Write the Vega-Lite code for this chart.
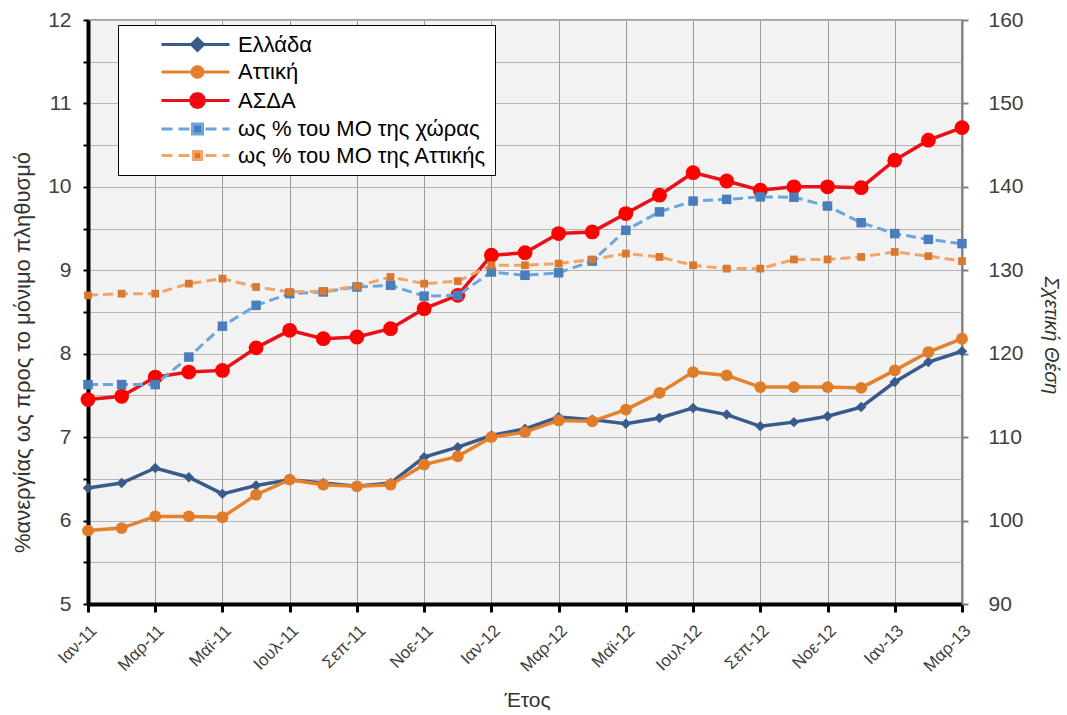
{
  "$schema": "https://vega.github.io/schema/vega-lite/v6.json",
  "width": 874,
  "height": 584,
  "autosize": {"type": "none"},
  "padding": {"left": 88, "top": 20, "right": 105, "bottom": 111},
  "background": "white",
  "config": {
    "font": "Liberation Sans",
    "view": {"fill": "#F2F2F2", "stroke": "#808080", "strokeWidth": 1.5}
  },
  "data": {
    "values": [
      {"month": "Ιαν-11", "series": "Ελλάδα", "value": 6.39},
      {"month": "Φεβ-11", "series": "Ελλάδα", "value": 6.45},
      {"month": "Μαρ-11", "series": "Ελλάδα", "value": 6.63},
      {"month": "Απρ-11", "series": "Ελλάδα", "value": 6.52},
      {"month": "Μαϊ-11", "series": "Ελλάδα", "value": 6.32},
      {"month": "Ιουν-11", "series": "Ελλάδα", "value": 6.42},
      {"month": "Ιουλ-11", "series": "Ελλάδα", "value": 6.49},
      {"month": "Αυγ-11", "series": "Ελλάδα", "value": 6.45},
      {"month": "Σεπ-11", "series": "Ελλάδα", "value": 6.41},
      {"month": "Οκτ-11", "series": "Ελλάδα", "value": 6.45},
      {"month": "Νοε-11", "series": "Ελλάδα", "value": 6.76},
      {"month": "Δεκ-11", "series": "Ελλάδα", "value": 6.88},
      {"month": "Ιαν-12", "series": "Ελλάδα", "value": 7.02},
      {"month": "Φεβ-12", "series": "Ελλάδα", "value": 7.1},
      {"month": "Μαρ-12", "series": "Ελλάδα", "value": 7.24},
      {"month": "Απρ-12", "series": "Ελλάδα", "value": 7.21},
      {"month": "Μαϊ-12", "series": "Ελλάδα", "value": 7.16},
      {"month": "Ιουν-12", "series": "Ελλάδα", "value": 7.23},
      {"month": "Ιουλ-12", "series": "Ελλάδα", "value": 7.35},
      {"month": "Αυγ-12", "series": "Ελλάδα", "value": 7.27},
      {"month": "Σεπ-12", "series": "Ελλάδα", "value": 7.13},
      {"month": "Οκτ-12", "series": "Ελλάδα", "value": 7.18},
      {"month": "Νοε-12", "series": "Ελλάδα", "value": 7.25},
      {"month": "Δεκ-12", "series": "Ελλάδα", "value": 7.36},
      {"month": "Ιαν-13", "series": "Ελλάδα", "value": 7.66},
      {"month": "Φεβ-13", "series": "Ελλάδα", "value": 7.9},
      {"month": "Μαρ-13", "series": "Ελλάδα", "value": 8.03},

      {"month": "Ιαν-11", "series": "Αττική", "value": 5.88},
      {"month": "Φεβ-11", "series": "Αττική", "value": 5.91},
      {"month": "Μαρ-11", "series": "Αττική", "value": 6.05},
      {"month": "Απρ-11", "series": "Αττική", "value": 6.05},
      {"month": "Μαϊ-11", "series": "Αττική", "value": 6.04},
      {"month": "Ιουν-11", "series": "Αττική", "value": 6.31},
      {"month": "Ιουλ-11", "series": "Αττική", "value": 6.49},
      {"month": "Αυγ-11", "series": "Αττική", "value": 6.43},
      {"month": "Σεπ-11", "series": "Αττική", "value": 6.41},
      {"month": "Οκτ-11", "series": "Αττική", "value": 6.43},
      {"month": "Νοε-11", "series": "Αττική", "value": 6.67},
      {"month": "Δεκ-11", "series": "Αττική", "value": 6.77},
      {"month": "Ιαν-12", "series": "Αττική", "value": 7.0},
      {"month": "Φεβ-12", "series": "Αττική", "value": 7.06},
      {"month": "Μαρ-12", "series": "Αττική", "value": 7.2},
      {"month": "Απρ-12", "series": "Αττική", "value": 7.19},
      {"month": "Μαϊ-12", "series": "Αττική", "value": 7.33},
      {"month": "Ιουν-12", "series": "Αττική", "value": 7.53},
      {"month": "Ιουλ-12", "series": "Αττική", "value": 7.78},
      {"month": "Αυγ-12", "series": "Αττική", "value": 7.74},
      {"month": "Σεπ-12", "series": "Αττική", "value": 7.6},
      {"month": "Οκτ-12", "series": "Αττική", "value": 7.6},
      {"month": "Νοε-12", "series": "Αττική", "value": 7.6},
      {"month": "Δεκ-12", "series": "Αττική", "value": 7.59},
      {"month": "Ιαν-13", "series": "Αττική", "value": 7.8},
      {"month": "Φεβ-13", "series": "Αττική", "value": 8.02},
      {"month": "Μαρ-13", "series": "Αττική", "value": 8.18},

      {"month": "Ιαν-11", "series": "ΑΣΔΑ", "value": 7.45},
      {"month": "Φεβ-11", "series": "ΑΣΔΑ", "value": 7.49},
      {"month": "Μαρ-11", "series": "ΑΣΔΑ", "value": 7.72},
      {"month": "Απρ-11", "series": "ΑΣΔΑ", "value": 7.78},
      {"month": "Μαϊ-11", "series": "ΑΣΔΑ", "value": 7.8},
      {"month": "Ιουν-11", "series": "ΑΣΔΑ", "value": 8.07},
      {"month": "Ιουλ-11", "series": "ΑΣΔΑ", "value": 8.28},
      {"month": "Αυγ-11", "series": "ΑΣΔΑ", "value": 8.18},
      {"month": "Σεπ-11", "series": "ΑΣΔΑ", "value": 8.2},
      {"month": "Οκτ-11", "series": "ΑΣΔΑ", "value": 8.3},
      {"month": "Νοε-11", "series": "ΑΣΔΑ", "value": 8.54},
      {"month": "Δεκ-11", "series": "ΑΣΔΑ", "value": 8.7},
      {"month": "Ιαν-12", "series": "ΑΣΔΑ", "value": 9.18},
      {"month": "Φεβ-12", "series": "ΑΣΔΑ", "value": 9.21},
      {"month": "Μαρ-12", "series": "ΑΣΔΑ", "value": 9.44},
      {"month": "Απρ-12", "series": "ΑΣΔΑ", "value": 9.46},
      {"month": "Μαϊ-12", "series": "ΑΣΔΑ", "value": 9.68},
      {"month": "Ιουν-12", "series": "ΑΣΔΑ", "value": 9.9},
      {"month": "Ιουλ-12", "series": "ΑΣΔΑ", "value": 10.17},
      {"month": "Αυγ-12", "series": "ΑΣΔΑ", "value": 10.07},
      {"month": "Σεπ-12", "series": "ΑΣΔΑ", "value": 9.96},
      {"month": "Οκτ-12", "series": "ΑΣΔΑ", "value": 10.0},
      {"month": "Νοε-12", "series": "ΑΣΔΑ", "value": 10.0},
      {"month": "Δεκ-12", "series": "ΑΣΔΑ", "value": 9.99},
      {"month": "Ιαν-13", "series": "ΑΣΔΑ", "value": 10.32},
      {"month": "Φεβ-13", "series": "ΑΣΔΑ", "value": 10.56},
      {"month": "Μαρ-13", "series": "ΑΣΔΑ", "value": 10.71},

      {"month": "Ιαν-11", "series": "ως % του ΜΟ της χώρας", "value": 116.3},
      {"month": "Φεβ-11", "series": "ως % του ΜΟ της χώρας", "value": 116.3},
      {"month": "Μαρ-11", "series": "ως % του ΜΟ της χώρας", "value": 116.3},
      {"month": "Απρ-11", "series": "ως % του ΜΟ της χώρας", "value": 119.6},
      {"month": "Μαϊ-11", "series": "ως % του ΜΟ της χώρας", "value": 123.3},
      {"month": "Ιουν-11", "series": "ως % του ΜΟ της χώρας", "value": 125.8},
      {"month": "Ιουλ-11", "series": "ως % του ΜΟ της χώρας", "value": 127.2},
      {"month": "Αυγ-11", "series": "ως % του ΜΟ της χώρας", "value": 127.4},
      {"month": "Σεπ-11", "series": "ως % του ΜΟ της χώρας", "value": 128.0},
      {"month": "Οκτ-11", "series": "ως % του ΜΟ της χώρας", "value": 128.2},
      {"month": "Νοε-11", "series": "ως % του ΜΟ της χώρας", "value": 126.9},
      {"month": "Δεκ-11", "series": "ως % του ΜΟ της χώρας", "value": 127.0},
      {"month": "Ιαν-12", "series": "ως % του ΜΟ της χώρας", "value": 129.8},
      {"month": "Φεβ-12", "series": "ως % του ΜΟ της χώρας", "value": 129.4},
      {"month": "Μαρ-12", "series": "ως % του ΜΟ της χώρας", "value": 129.7},
      {"month": "Απρ-12", "series": "ως % του ΜΟ της χώρας", "value": 131.1},
      {"month": "Μαϊ-12", "series": "ως % του ΜΟ της χώρας", "value": 134.8},
      {"month": "Ιουν-12", "series": "ως % του ΜΟ της χώρας", "value": 137.0},
      {"month": "Ιουλ-12", "series": "ως % του ΜΟ της χώρας", "value": 138.3},
      {"month": "Αυγ-12", "series": "ως % του ΜΟ της χώρας", "value": 138.5},
      {"month": "Σεπ-12", "series": "ως % του ΜΟ της χώρας", "value": 138.8},
      {"month": "Οκτ-12", "series": "ως % του ΜΟ της χώρας", "value": 138.75},
      {"month": "Νοε-12", "series": "ως % του ΜΟ της χώρας", "value": 137.7},
      {"month": "Δεκ-12", "series": "ως % του ΜΟ της χώρας", "value": 135.7},
      {"month": "Ιαν-13", "series": "ως % του ΜΟ της χώρας", "value": 134.4},
      {"month": "Φεβ-13", "series": "ως % του ΜΟ της χώρας", "value": 133.7},
      {"month": "Μαρ-13", "series": "ως % του ΜΟ της χώρας", "value": 133.2},

      {"month": "Ιαν-11", "series": "ως % του ΜΟ της Αττικής", "value": 127.0},
      {"month": "Φεβ-11", "series": "ως % του ΜΟ της Αττικής", "value": 127.2},
      {"month": "Μαρ-11", "series": "ως % του ΜΟ της Αττικής", "value": 127.2},
      {"month": "Απρ-11", "series": "ως % του ΜΟ της Αττικής", "value": 128.4},
      {"month": "Μαϊ-11", "series": "ως % του ΜΟ της Αττικής", "value": 129.0},
      {"month": "Ιουν-11", "series": "ως % του ΜΟ της Αττικής", "value": 128.0},
      {"month": "Ιουλ-11", "series": "ως % του ΜΟ της Αττικής", "value": 127.4},
      {"month": "Αυγ-11", "series": "ως % του ΜΟ της Αττικής", "value": 127.5},
      {"month": "Σεπ-11", "series": "ως % του ΜΟ της Αττικής", "value": 128.1},
      {"month": "Οκτ-11", "series": "ως % του ΜΟ της Αττικής", "value": 129.2},
      {"month": "Νοε-11", "series": "ως % του ΜΟ της Αττικής", "value": 128.4},
      {"month": "Δεκ-11", "series": "ως % του ΜΟ της Αττικής", "value": 128.7},
      {"month": "Ιαν-12", "series": "ως % του ΜΟ της Αττικής", "value": 130.6},
      {"month": "Φεβ-12", "series": "ως % του ΜΟ της Αττικής", "value": 130.6},
      {"month": "Μαρ-12", "series": "ως % του ΜΟ της Αττικής", "value": 130.8},
      {"month": "Απρ-12", "series": "ως % του ΜΟ της Αττικής", "value": 131.3},
      {"month": "Μαϊ-12", "series": "ως % του ΜΟ της Αττικής", "value": 132.0},
      {"month": "Ιουν-12", "series": "ως % του ΜΟ της Αττικής", "value": 131.6},
      {"month": "Ιουλ-12", "series": "ως % του ΜΟ της Αττικής", "value": 130.6},
      {"month": "Αυγ-12", "series": "ως % του ΜΟ της Αττικής", "value": 130.2},
      {"month": "Σεπ-12", "series": "ως % του ΜΟ της Αττικής", "value": 130.2},
      {"month": "Οκτ-12", "series": "ως % του ΜΟ της Αττικής", "value": 131.3},
      {"month": "Νοε-12", "series": "ως % του ΜΟ της Αττικής", "value": 131.3},
      {"month": "Δεκ-12", "series": "ως % του ΜΟ της Αττικής", "value": 131.6},
      {"month": "Ιαν-13", "series": "ως % του ΜΟ της Αττικής", "value": 132.2},
      {"month": "Φεβ-13", "series": "ως % του ΜΟ της Αττικής", "value": 131.7},
      {"month": "Μαρ-13", "series": "ως % του ΜΟ της Αττικής", "value": 131.1}
    ]
  },
  "encoding": {
    "x": {
      "field": "month",
      "type": "ordinal",
      "sort": null,
      "scale": {
        "type": "point",
        "padding": 0,
        "domain": ["Ιαν-11","Φεβ-11","Μαρ-11","Απρ-11","Μαϊ-11","Ιουν-11","Ιουλ-11","Αυγ-11","Σεπ-11","Οκτ-11","Νοε-11","Δεκ-11","Ιαν-12","Φεβ-12","Μαρ-12","Απρ-12","Μαϊ-12","Ιουν-12","Ιουλ-12","Αυγ-12","Σεπ-12","Οκτ-12","Νοε-12","Δεκ-12","Ιαν-13","Φεβ-13","Μαρ-13"]
      },
      "axis": {
        "title": "Έτος",
        "values": ["Ιαν-11","Μαρ-11","Μαϊ-11","Ιουλ-11","Σεπ-11","Νοε-11","Ιαν-12","Μαρ-12","Μαϊ-12","Ιουλ-12","Σεπ-12","Νοε-12","Ιαν-13","Μαρ-13"],
        "labelAngle": -45,
        "labelFontSize": 17,
        "labelColor": "#404040",
        "labelPadding": 10,
        "domainColor": "black",
        "domainWidth": 4,
        "tickColor": "black",
        "tickWidth": 3,
        "tickSize": 8,
        "grid": true,
        "gridColor": "#9A9A9A",
        "gridWidth": 1,
        "titleFontSize": 21,
        "titleFontWeight": "normal",
        "titleColor": "#333333",
        "titleX": 439,
        "titleY": 96,
        "titleAlign": "center",
        "titleBaseline": "middle"
      }
    }
  },
  "layer": [
    {
      "transform": [{"filter": {"field": "series", "oneOf": ["Ελλάδα", "Αττική", "ΑΣΔΑ"]}}],
      "encoding": {
        "y": {
          "field": "value",
          "type": "quantitative",
          "scale": {"domain": [5, 12], "nice": false, "zero": false},
          "axis": {
            "title": "%ανεργίας ως προς το μόνιμο πληθυσμό",
            "orient": "left",
            "values": [5, 5.5, 6, 6.5, 7, 7.5, 8, 8.5, 9, 9.5, 10, 10.5, 11, 11.5, 12],
            "labelExpr": "datum.value % 1 === 0 ? format(datum.value, 'd') : ''",
            "labelFontSize": 21,
            "labelColor": "#404040",
            "labelPadding": 12,
            "tickSize": 5,
            "tickColor": "black",
            "tickWidth": 2,
            "domainColor": "black",
            "domainWidth": 4,
            "grid": true,
            "gridColor": "#B4B4B4",
            "gridWidth": 1,
            "titleFontSize": 22,
            "titleFontWeight": "normal",
            "titleColor": "#333333",
            "titleX": -66,
            "titleY": 332,
            "titleAngle": 270,
            "titleAlign": "center",
            "titleBaseline": "middle"
          }
        }
      },
      "layer": [
        {
          "mark": {"type": "line", "strokeWidth": 3.5},
          "encoding": {
            "color": {
              "field": "series",
              "type": "nominal",
              "scale": {
                "domain": ["Ελλάδα", "Αττική", "ΑΣΔΑ", "ως % του ΜΟ της χώρας", "ως % του ΜΟ της Αττικής"],
                "range": ["#3A5A8C", "#E3812D", "#E8111A", "#6AA6DC", "#F2A468"]
              },
              "legend": {
                "title": null,
                "orient": "none",
                "legendX": 30,
                "legendY": 5,
                "direction": "vertical",
                "padding": 8,
                "fillColor": "white",
                "strokeColor": "black",
                "symbolSize": 400,
                "symbolStrokeWidth": 3,
                "symbolOpacity": 1,
                "labelOffset": 89,
                "labelFontSize": 22,
                "labelColor": "black",
                "labelLimit": 400,
                "rowPadding": 3.5
              }
            }
          }
        },
        {
          "transform": [{"filter": "false"}],
          "mark": {"type": "point", "filled": true},
          "encoding": {
            "fill": {
              "field": "series",
              "type": "nominal",
              "scale": {
                "domain": ["Ελλάδα", "Αττική", "ΑΣΔΑ", "ως % του ΜΟ της χώρας", "ως % του ΜΟ της Αττικής"],
                "range": ["#3A5A8C", "#E07B2A", "#FF0000", "#4A7EBB", "#D9782E"]
              },
              "legend": null
            },
            "shape": {
              "field": "series",
              "type": "nominal",
              "scale": {
                "domain": ["Ελλάδα", "Αττική", "ΑΣΔΑ", "ως % του ΜΟ της χώρας", "ως % του ΜΟ της Αττικής"],
                "range": [
                  "M2.4,0H9.2M6,-0.6L6.6,0L6,0.6L5.4,0Z",
                  "M2.4,0H9.2M6.55,0L6.476,0.275L6.275,0.476L6,0.55L5.725,0.476L5.524,0.275L5.45,0L5.524,-0.275L5.725,-0.476L6,-0.55L6.275,-0.476L6.476,-0.275Z",
                  "M2.4,0H9.2M6.7,0L6.606,0.35L6.35,0.606L6,0.7L5.65,0.606L5.394,0.35L5.3,0L5.394,-0.35L5.65,-0.606L6,-0.7L6.35,-0.606L6.606,-0.35Z",
                  "M2.4,0H3.5M4.1,0H5.2M6.8,0H7.9M8.5,0H9.2M5.5,-0.5H6.5V0.5H5.5Z",
                  "M2.4,0H3.5M4.1,0H5.2M6.8,0H7.9M8.5,0H9.2M5.6,-0.4H6.4V0.4H5.6Z"
                ]
              },
              "legend": null
            }
          }
        },
        {
          "transform": [{"filter": {"field": "series", "equal": "Ελλάδα"}}],
          "mark": {"type": "point", "filled": true, "shape": "diamond", "size": 110, "color": "#3A5A8C", "opacity": 1}
        },
        {
          "transform": [{"filter": {"field": "series", "equal": "Αττική"}}],
          "mark": {"type": "point", "filled": true, "shape": "circle", "size": 140, "color": "#E07B2A", "opacity": 1}
        },
        {
          "transform": [{"filter": {"field": "series", "equal": "ΑΣΔΑ"}}],
          "mark": {"type": "point", "filled": true, "shape": "circle", "size": 220, "color": "#FF0000", "opacity": 1}
        }
      ]
    },
    {
      "transform": [{"filter": {"field": "series", "oneOf": ["ως % του ΜΟ της χώρας", "ως % του ΜΟ της Αττικής"]}}],
      "encoding": {
        "y": {
          "field": "value",
          "type": "quantitative",
          "scale": {"domain": [90, 160], "nice": false, "zero": false},
          "axis": {
            "title": "Σχετική Θέση",
            "orient": "right",
            "values": [90, 100, 110, 120, 130, 140, 150, 160],
            "grid": false,
            "labelFontSize": 21,
            "labelColor": "#404040",
            "labelPadding": 20,
            "tickSize": 6,
            "tickColor": "#808080",
            "tickWidth": 2,
            "domainColor": "#808080",
            "domainWidth": 2,
            "titleFontSize": 20,
            "titleFontStyle": "italic",
            "titleFontWeight": "normal",
            "titleColor": "#333333",
            "titleX": 88,
            "titleY": 315,
            "titleAngle": 90,
            "titleAlign": "center",
            "titleBaseline": "middle"
          }
        }
      },
      "layer": [
        {
          "mark": {"type": "line", "strokeWidth": 3, "strokeDash": [10, 5]},
          "encoding": {
            "color": {
              "field": "series",
              "type": "nominal",
              "scale": {
                "domain": ["Ελλάδα", "Αττική", "ΑΣΔΑ", "ως % του ΜΟ της χώρας", "ως % του ΜΟ της Αττικής"],
                "range": ["#3A5A8C", "#E3812D", "#E8111A", "#6AA6DC", "#F2A468"]
              }
            }
          }
        },
        {
          "transform": [{"filter": {"field": "series", "equal": "ως % του ΜΟ της χώρας"}}],
          "mark": {"type": "point", "filled": true, "shape": "square", "size": 90, "color": "#4A7EBB", "opacity": 1}
        },
        {
          "transform": [{"filter": {"field": "series", "equal": "ως % του ΜΟ της Αττικής"}}],
          "mark": {"type": "point", "filled": true, "shape": "square", "size": 60, "color": "#D9782E", "opacity": 1}
        }
      ]
    }
  ],
  "resolve": {"scale": {"y": "independent"}}
}
